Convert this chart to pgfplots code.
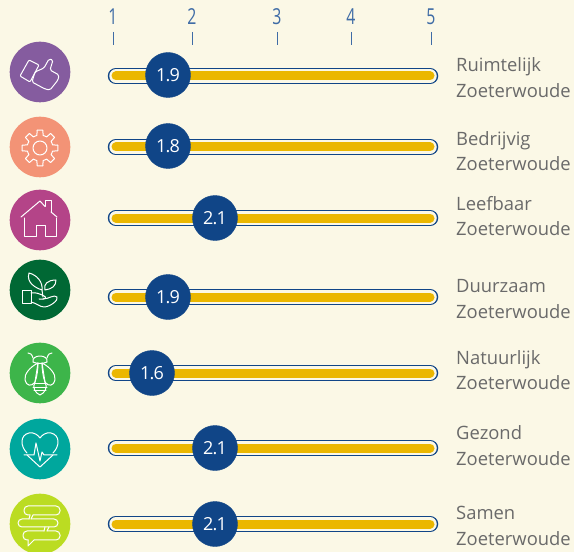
\documentclass[border=0pt]{standalone}
\usepackage{pgfplots}
\pgfplotsset{compat=1.18}
\usepackage{pgfplotstable}
\usepackage{graphicx}
\usepackage{fontspec}
\setmainfont{Open Sans}
\definecolor{bgc}{HTML}{FBF8E6}
\definecolor{navy}{HTML}{104587}
\definecolor{tickc}{HTML}{3F6CA6}
\definecolor{yel}{HTML}{EBB700}
\definecolor{txt}{HTML}{6A6A6A}
\definecolor{c1}{HTML}{855C9F}
\definecolor{c2}{HTML}{F39376}
\definecolor{c3}{HTML}{B44488}
\definecolor{c4}{HTML}{006834}
\definecolor{c5}{HTML}{3DB54A}
\definecolor{c6}{HTML}{00A79D}
\definecolor{c7}{HTML}{BBDC22}
% pos = horizontal position in picture pixels (scale is not linear), y = row centre in pixels
\pgfplotstableread{
pos y value
168 75 1.9
168 146 1.8
215 218 2.1
168 297 1.9
152 373 1.6
215 448 2.1
215 524 2.1
}\markers
\newcommand{\track}[1]{
 \addplot[navy,line width=16.5bp,line cap=round] coordinates {(116,#1) (430,#1)};
 \addplot[bgc,line width=13.5bp,line cap=round] coordinates {(116,#1) (430,#1)};
 \addplot[yel,line width=9bp,line cap=round] coordinates {(116,#1) (430,#1)};
}
\newcommand{\rowlab}[3]{
 \node[anchor=base west,inner sep=0pt,text=txt,font=\fontsize{18.4bp}{18.4bp}\selectfont] at (axis cs:456,#1) {#3};
 \node[anchor=base west,inner sep=0pt,text=txt,font=\fontsize{18.4bp}{18.4bp}\selectfont] at (axis cs:456,#2) {Zoeterwoude};
}
\newcommand{\tl}[1]{\scalebox{0.72}[1]{#1}}
\tikzset{ic/.style={white,line width=1bp,line join=round,line cap=round},
 at px/.style args={#1,#2}{shift={(#1bp,552bp-#2bp)},x=1bp,y=-1bp}}
\begin{document}
\begin{tikzpicture}[x=1bp,y=1bp]
\path[use as bounding box,fill=bgc] (0,0) rectangle (574bp,552bp);
\begin{axis}[at={(0,0)},anchor=south west,scale only axis,width=574bp,height=507bp,
 xmin=0,xmax=574,ymin=45,ymax=552,y dir=reverse,clip=false,
 axis x line*=top,axis y line=none,x axis line style={draw=none},
 xtick={113,192,277,351,431},
 xticklabels={\tl{1},\tl{2},\tl{3},\tl{4},\raisebox{-3bp}{\tl{5}}},
 tick align=outside,major tick length=13bp,tick style={tickc,line width=0.8bp},
 xticklabel style={text=tickc,inner sep=0pt,yshift=7bp,font=\fontsize{22bp}{22bp}\selectfont},
 ]
\track{76}\track{147}\track{218}\track{297}\track{373}\track{448}\track{524}
\addplot[only marks,mark=*,mark size=22.5bp,draw=navy,fill=navy,mark options={draw=navy,fill=navy},
 nodes near coords,point meta=explicit symbolic,
 nodes near coords style={anchor=center,text=white,inner sep=0pt,font=\fontsize{18bp}{18bp}\selectfont\addfontfeature{LetterSpace=-4}}]
 table[x=pos,y=y,meta=value]{\markers};
\rowlab{72}{98}{Ruimtelijk}
\rowlab{145}{170}{Bedrijvig}
\rowlab{210}{235}{Leefbaar}
\rowlab{292}{318}{Duurzaam}
\rowlab{364}{389}{Natuurlijk}
\rowlab{439}{465}{Gezond}
\rowlab{519}{545}{Samen}
\end{axis}
% icon discs
\foreach \cx/\cy/\cc in {40/72/c1,40/147/c2,40/220/c3,40/290/c4,40/373/c5,40/449/c6,40/524/c7}{
 \fill[\cc] (\cx bp,552bp-\cy bp) circle (30.3bp);
}
% thumb
\begin{scope}[at px={40,72},ic]
\draw[rounded corners=1bp] (-11,-12)--(-1,-7)--(-10,10)--(-20,4)--cycle;
\draw[rounded corners=1.5bp] (-8,10)--(-5,0)--(4,-4)--(9,-13)--(13,-12)--(10,-2)--(19,3)--(18,8)--(10,18)--(5,17)--cycle;
\end{scope}
% gear
\begin{scope}[at px={40,148},ic]
\draw (0,0) circle (7);
\foreach \a in {0,45,...,315}{
 \draw ({\a-9}:18)--({\a+9}:18)--({\a+14}:13)--({\a+31}:13)--({\a+36}:18);
}
\end{scope}
% house
\begin{scope}[at px={40,220},ic]
\draw (5,-13.5)--(5,-19)--(11,-19)--(11,-8);
\draw (5,-13.5)--(0,-19)--(-19,-3);
\draw (11,-8)--(17,-3);
\draw (-16,-2)--(-16,17)--(-4,17)--(-4,6)--(5,6)--(5,17)--(16,17)--(16,-2);
\end{scope}
% plant in hand
\begin{scope}[at px={40,290},ic]
\draw (-11,-17) .. controls (-14,-7) and (-4,-2) .. (2,0) .. controls (3,-8) and (-3,-15) .. cycle;
\draw (16,-10) .. controls (8,-10) and (3,-6) .. (5,0) .. controls (12,-1) and (16,-4) .. cycle;
\draw (2,0)--(3,7);
\draw (-18,1) rectangle (-9,14);
\draw (-9,3) .. controls (-4,2) and (0,4) .. (4,6) .. controls (7,7) and (6,10) .. (-1,9);
\draw (3,9) .. controls (9,9) and (14,4) .. (17,7) .. controls (19,10) and (10,17) .. (4,17) .. controls (0,17) and (-4,13) .. (-9,12);
\end{scope}
% bee
\begin{scope}[at px={40,373},ic]
\draw (-7,-11) .. controls (-9,-19) and (9,-19) .. (7,-11);
\draw (-7,-11) .. controls (-3,-9) and (3,-9) .. (7,-11);
\draw (-7,-15) .. controls (-8,-19) and (-10,-20) .. (-12,-20);
\draw (7,-15) .. controls (8,-19) and (10,-20) .. (12,-20);
\draw (-2,-10) .. controls (-10,-6) and (-16,1) .. (-15,7) .. controls (-14,13) and (-8,14) .. (-5,9) .. controls (-3,4) and (-2,-4) .. (-2,-10);
\draw (2,-10) .. controls (10,-6) and (16,1) .. (15,7) .. controls (14,13) and (8,14) .. (5,9) .. controls (3,4) and (2,-4) .. (2,-10);
\draw (-2,-10) -- (-5,9) .. controls (-8,14) and (-5,20) .. (0,22) .. controls (5,20) and (8,14) .. (5,9) -- (2,-10);
\draw (-7,11)--(7,11) (-7,14.5)--(7,14.5) (-6,18)--(6,18);
\end{scope}
% heart
\begin{scope}[at px={40,449},ic]
\draw (-13,4) .. controls (-20,-3) and (-20,-14) .. (-11,-16) .. controls (-6,-17) and (-2,-14) .. (0,-11) .. controls (2,-14) and (6,-17) .. (11,-16) .. controls (20,-14) and (20,-3) .. (13,4);
\draw (-13,6)--(0,18)--(13,6);
\draw (-16,6)--(-6,6)--(-4,-6)--(0,12)--(2,3)--(4,6)--(17,6);
\end{scope}
% speech bubbles
\begin{scope}[at px={40,524},ic]
\draw[rounded corners=4bp] (-10,-9)--(-16,-9)--(-16,-18)--(20,-18)--(20,-9)--(-7,-9);
\draw (-10,-9)--(-11,-5) (-7,-9)--(-9,-5);
\draw[rounded corners=4bp] (-9,-5)--(18,-5)--(18,3)--(-22,3)--(-22,-5)--(-11,-5);
\draw (5,3)--(4,7) (9,3)--(7,7);
\draw[rounded corners=4bp] (7,7)--(20,7)--(20,16)--(-6,16);
\draw[rounded corners=4bp] (4,7)--(-17,7)--(-17,16)--(-12,16);
\draw (-12,16)--(-12,22)--(-6,16);
\end{scope}
\end{tikzpicture}
\end{document}
